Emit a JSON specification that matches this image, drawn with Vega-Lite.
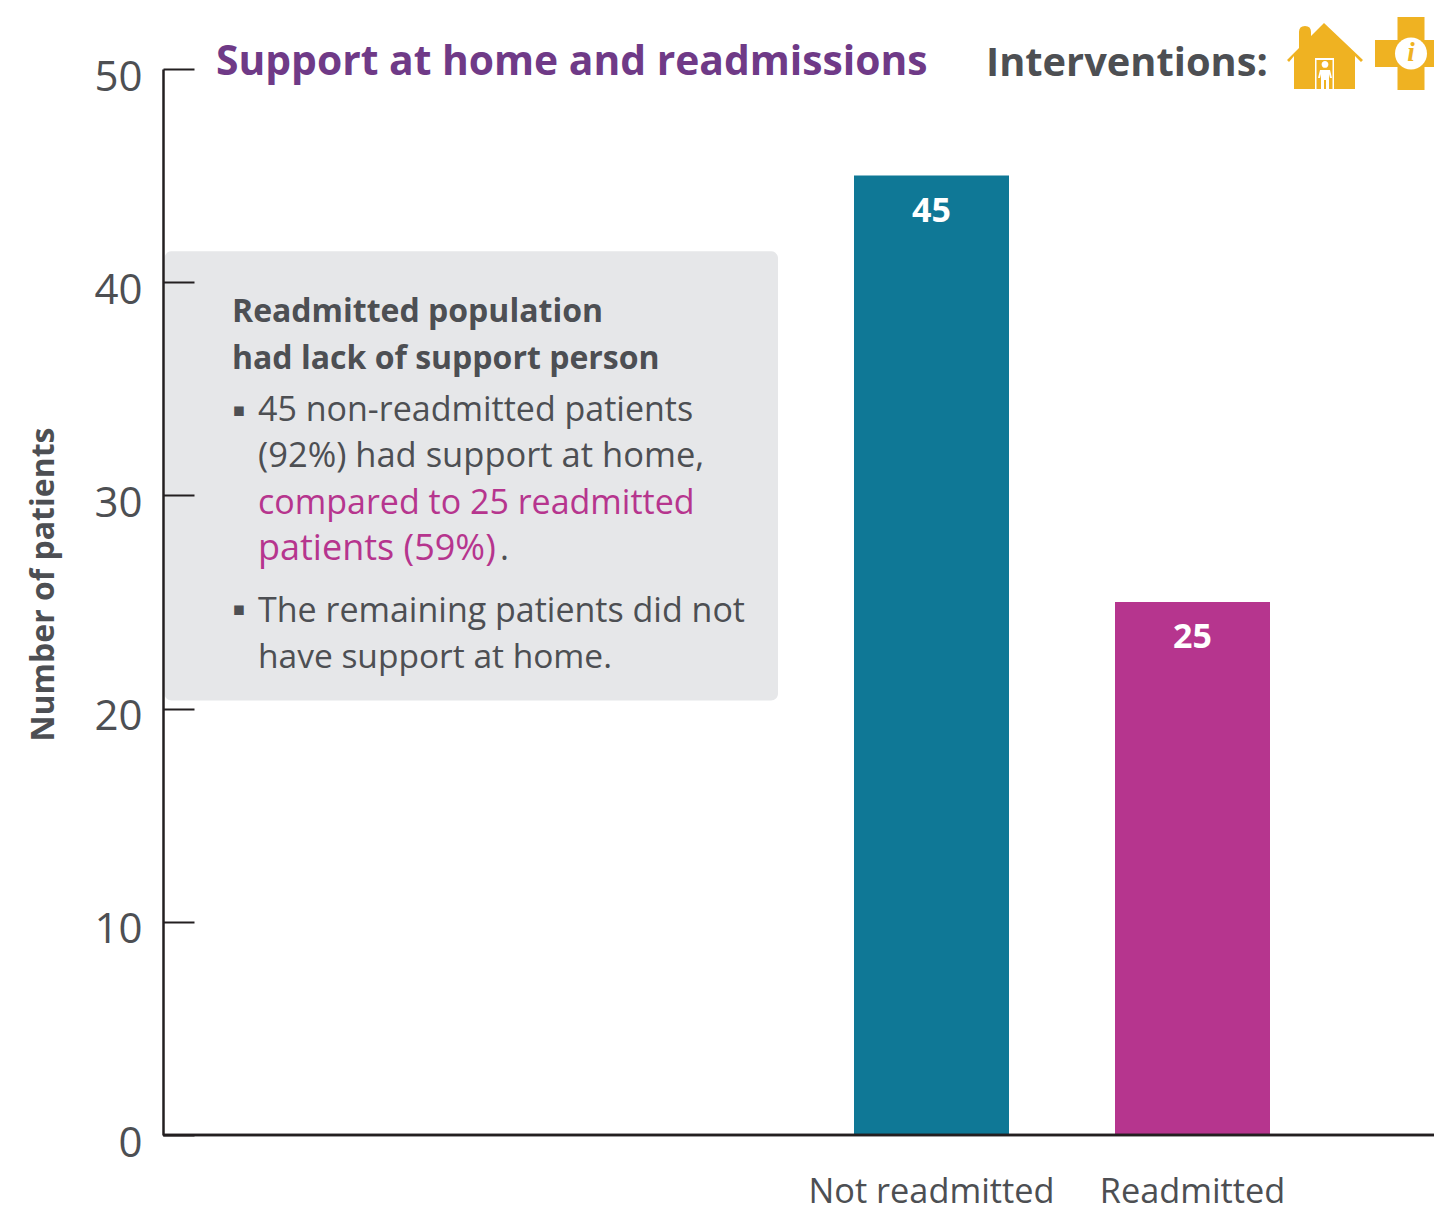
{
"$schema":"https://vega.github.io/schema/vega-lite/v6.json",
"width":1271,"height":1066,
"autosize":{"type":"none"},
"padding":{"left":163,"top":69,"right":0,"bottom":77},
"background":"white",
"config":{"view":{"stroke":null},"font":"Open Sans"},
"resolve":{"scale":{"x":"independent"},"axis":{"x":"independent"}},
"layer":[
{"data":{"values":[{"status":"Not readmitted","patients":45},{"status":"Readmitted","patients":25}]},
 "encoding":{
  "x":{"field":"status","type":"nominal","sort":null,
   "scale":{"type":"band","domain":["Not readmitted","Readmitted"],"range":[638,1160],"paddingInner":0.406,"paddingOuter":0.203},
   "axis":{"title":null,"domain":false,"ticks":false,"labelAngle":0,"labelFontSize":34.3,"labelColor":"#4D4F53","labelPadding":40,"labelFont":"Open Sans","labelLimit":400}},
  "y":{"field":"patients","type":"quantitative",
   "scale":{"domain":[0,50],"nice":false},
   "axis":{"values":[0,10,20,30,40,50],"grid":false,"title":"Number of patients","titleFontSize":32,"titleFontWeight":"bold","titleColor":"#4D4F53","titleFont":"Open Sans","titleX":-103,"titleY":515,
    "domainColor":"#231F20","domainWidth":2.5,"tickColor":"#231F20","tickWidth":2,"tickSize":-31,"labelFontSize":42,"labelColor":"#4D4F53","labelPadding":52,"labelOffset":8,"labelFont":"Open Sans","zindex":1}}},
 "layer":[
  {"mark":{"type":"bar","width":155},"encoding":{"color":{"field":"status","type":"nominal","scale":{"domain":["Not readmitted","Readmitted"],"range":["#0F7896","#B6358E"]},"legend":null}}},
  {"mark":{"type":"text","baseline":"middle","dy":36,"fontSize":34,"fontWeight":"bold","color":"white"},"encoding":{"text":{"field":"patients","type":"quantitative"}}},
  {"mark":{"type":"rule","color":"#231F20","strokeWidth":2.5},"encoding":{"y":{"datum":0},"x":{"value":0},"x2":{"value":1271}}}
 ]},
{"layer":[
 {"data":{"values":[{"note":"box"}]},"mark":{"type":"rect","color":"#E6E7E9","cornerRadius":7},
  "encoding":{"x":{"datum":1.5,"type":"quantitative","scale":{"domain":[0,1271],"nice":false,"zero":false},"axis":null},"x2":{"datum":615},"y":{"datum":41.455,"type":"quantitative"},"y2":{"datum":20.376}}},
 {"data":{"values":[{"label":"Readmitted population"}]},"mark":{"type":"text","align":"left","baseline":"alphabetic","fontSize":32,"fontWeight":"bold","color":"#4D4F53"},"encoding":{"text":{"field":"label"},"x":{"datum":69,"type":"quantitative"},"y":{"datum":38.12,"type":"quantitative"}}},
 {"data":{"values":[{"label":"had lack of support person"}]},"mark":{"type":"text","align":"left","baseline":"alphabetic","fontSize":32,"fontWeight":"bold","color":"#4D4F53"},"encoding":{"text":{"field":"label"},"x":{"datum":69,"type":"quantitative"},"y":{"datum":35.92,"type":"quantitative"}}},
 {"data":{"values":[{"label":"▪"}]},"mark":{"type":"text","align":"center","baseline":"middle","fontSize":19,"font":"DejaVu Sans","color":"#4D4F53"},"encoding":{"text":{"field":"label"},"x":{"datum":76,"type":"quantitative"},"y":{"datum":34.0,"type":"quantitative"}}},
 {"data":{"values":[{"label":"▪"}]},"mark":{"type":"text","align":"center","baseline":"middle","fontSize":19,"font":"DejaVu Sans","color":"#4D4F53"},"encoding":{"text":{"field":"label"},"x":{"datum":76,"type":"quantitative"},"y":{"datum":24.68,"type":"quantitative"}}},
 {"data":{"values":[{"label":"45 non-readmitted patients"}]},"mark":{"type":"text","align":"left","baseline":"alphabetic","fontSize":34,"color":"#4D4F53"},"encoding":{"text":{"field":"label"},"x":{"datum":95,"type":"quantitative"},"y":{"datum":33.47,"type":"quantitative"}}},
 {"data":{"values":[{"label":"(92%) had support at home,"}]},"mark":{"type":"text","align":"left","baseline":"alphabetic","fontSize":34.5,"color":"#4D4F53"},"encoding":{"text":{"field":"label"},"x":{"datum":95,"type":"quantitative"},"y":{"datum":31.31,"type":"quantitative"}}},
 {"data":{"values":[{"label":"compared to 25 readmitted"}]},"mark":{"type":"text","align":"left","baseline":"alphabetic","fontSize":34,"color":"#B6358E"},"encoding":{"text":{"field":"label"},"x":{"datum":95,"type":"quantitative"},"y":{"datum":29.15,"type":"quantitative"}}},
 {"data":{"values":[{"label":"patients (59%)"}]},"mark":{"type":"text","align":"left","baseline":"alphabetic","fontSize":36,"color":"#B6358E"},"encoding":{"text":{"field":"label"},"x":{"datum":95,"type":"quantitative"},"y":{"datum":26.99,"type":"quantitative"}}},
 {"data":{"values":[{"label":"."}]},"mark":{"type":"text","align":"left","baseline":"alphabetic","fontSize":34,"color":"#4D4F53"},"encoding":{"text":{"field":"label"},"x":{"datum":337,"type":"quantitative"},"y":{"datum":26.99,"type":"quantitative"}}},
 {"data":{"values":[{"label":"The remaining patients did not"}]},"mark":{"type":"text","align":"left","baseline":"alphabetic","fontSize":34,"color":"#4D4F53"},"encoding":{"text":{"field":"label"},"x":{"datum":95,"type":"quantitative"},"y":{"datum":24.08,"type":"quantitative"}}},
 {"data":{"values":[{"label":"have support at home."}]},"mark":{"type":"text","align":"left","baseline":"alphabetic","fontSize":33.5,"color":"#4D4F53"},"encoding":{"text":{"field":"label"},"x":{"datum":95,"type":"quantitative"},"y":{"datum":21.92,"type":"quantitative"}}},
 {"data":{"values":[{"label":"Support at home and readmissions"}]},"mark":{"type":"text","align":"left","baseline":"alphabetic","fontSize":40.8,"fontWeight":"bold","color":"#6F3A87"},"encoding":{"text":{"field":"label"},"x":{"datum":53,"type":"quantitative"},"y":{"datum":49.7,"type":"quantitative"}}},
 {"data":{"values":[{"label":"Interventions:"}]},"mark":{"type":"text","align":"left","baseline":"alphabetic","fontSize":39.8,"fontWeight":"bold","color":"#4D4F53"},"encoding":{"text":{"field":"label"},"x":{"datum":823,"type":"quantitative"},"y":{"datum":49.68,"type":"quantitative"}}},
 {"data":{"values":[{"icon":"house"}]},"mark":{"type":"point","filled":true,"opacity":1,"size":4,"color":"#EFB222","shape":"M-38,1 L-26,-11 L-26,-27 Q-26,-33 -20,-33 Q-14,-33 -14,-27 L-14,-23 L-1,-36 L38,1 L36,3 L30,-3 L30,30 L-31,30 L-31,-3 L-36,3 Z"},"encoding":{"x":{"datum":1162,"type":"quantitative"},"y":{"datum":50.47,"type":"quantitative"}}},
 {"data":{"values":[{"icon":"house door"}]},"mark":{"type":"point","filled":true,"opacity":1,"size":4,"color":"white","shape":"M-10,-1 L9,-1 L9,30 L7.5,30 L7.5,1 L-8.5,1 L-8.5,30 L-10,30 Z M0,2 A3.4,3.4 0 1 1 -0.01,2 Z M-5,11 L5,11 L7,19 L5,19 L4,15 L4,30 L1,30 L1,21 L-1,21 L-1,30 L-4,30 L-4,15 L-5,19 L-7,19 Z"},"encoding":{"x":{"datum":1162,"type":"quantitative"},"y":{"datum":50.47,"type":"quantitative"}}},
 {"data":{"values":[{"icon":"cross"}]},"mark":{"type":"point","filled":true,"opacity":1,"size":4,"color":"#EFB222","shape":"M-13.5,-36.5 L13.5,-36.5 L13.5,-13.5 L36,-13.5 L36,13.5 L13.5,13.5 L13.5,36.5 L-13.5,36.5 L-13.5,13.5 L-36,13.5 L-36,-13.5 L-13.5,-13.5 Z"},"encoding":{"x":{"datum":1248,"type":"quantitative"},"y":{"datum":50.73,"type":"quantitative"}}},
 {"data":{"values":[{"icon":"cross circle"}]},"mark":{"type":"point","filled":true,"opacity":1,"size":4,"color":"white","shape":"M-16,0 A16,16 0 1 1 16,0 A16,16 0 1 1 -16,0 Z"},"encoding":{"x":{"datum":1248,"type":"quantitative"},"y":{"datum":50.73,"type":"quantitative"}}},
 {"data":{"values":[{"label":"i"}]},"mark":{"type":"text","align":"center","baseline":"middle","font":"Liberation Serif","fontStyle":"italic","fontWeight":"bold","fontSize":27,"color":"#EFB222"},"encoding":{"text":{"field":"label"},"x":{"datum":1248,"type":"quantitative"},"y":{"datum":50.73,"type":"quantitative"}}}
]}
]}
